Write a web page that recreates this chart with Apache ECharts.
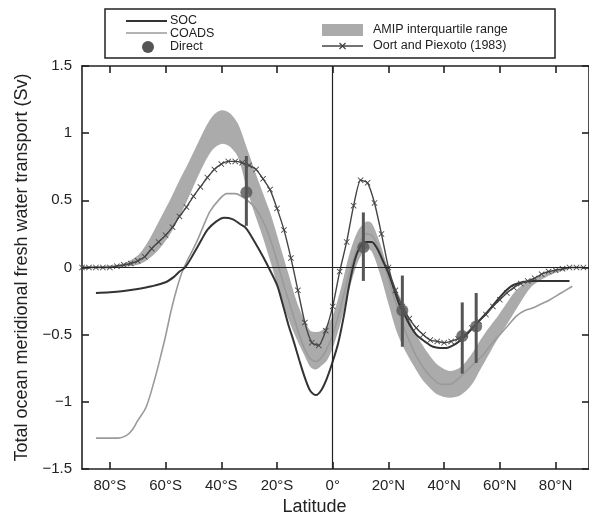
<!DOCTYPE html>
<html><head><meta charset="utf-8">
<script src="https://cdn.jsdelivr.net/npm/echarts@6/dist/echarts.min.js"></script>
<style>html,body{margin:0;padding:0;background:#fff}#c{width:589px;height:521px}</style>
</head><body><div id="c"></div>
<script>
// ---- data ----
const latTicks = [-80, -60, -40, -20, 0, 20, 40, 60, 80];
const yTicks = [-1.5, -1, -0.5, 0, 0.5, 1, 1.5];

// SOC: [latitude, Sv]
const socData = [
  [-85,-0.19],[-80,-0.185],[-75,-0.175],[-70,-0.16],[-65,-0.14],[-60,-0.11],[-57,-0.07],[-55,-0.03],
  [-53,0.0],[-50,0.10],[-47,0.21],[-45,0.28],[-42,0.34],[-39,0.37],[-36,0.36],[-33,0.32],[-31,0.29],
  [-28,0.19],[-25,0.08],[-23,0.0],[-20,-0.13],[-18,-0.27],[-16,-0.42],[-14,-0.55],[-12,-0.69],
  [-10,-0.82],[-8,-0.92],[-6,-0.95],[-4,-0.91],[-2,-0.82],[0,-0.7],[2,-0.56],[4,-0.36],[6,-0.12],
  [8,0.06],[10,0.16],[12,0.19],[14,0.19],[16,0.14],[18,0.05],[20,-0.04],[22,-0.16],[24,-0.28],
  [26,-0.36],[28,-0.44],[30,-0.5],[33,-0.55],[36,-0.59],[40,-0.6],[44,-0.57],[48,-0.5],[52,-0.41],
  [56,-0.32],[60,-0.22],[64,-0.14],[68,-0.11],[72,-0.1],[78,-0.1],[85,-0.1]
];

// COADS: [latitude, Sv]
const coadsData = [
  [-85,-1.27],[-80,-1.27],[-77,-1.27],[-74,-1.25],[-72,-1.21],[-70,-1.14],[-67,-1.04],[-64,-0.84],
  [-62,-0.68],[-60,-0.51],[-58,-0.32],[-56,-0.16],[-54,-0.03],[-52,0.06],[-50,0.14],[-48,0.23],
  [-46,0.33],[-44,0.42],[-41,0.5],[-38,0.55],[-35,0.55],[-32,0.52],[-29,0.47],[-27,0.42],[-24,0.3],
  [-21,0.12],[-18,-0.1],[-15,-0.3],[-12,-0.5],[-10,-0.61],[-8,-0.68],[-6,-0.7],[-4,-0.67],[-2,-0.6],
  [0,-0.5],[2,-0.36],[4,-0.2],[6,-0.04],[8,0.1],[10,0.2],[12,0.25],[14,0.24],[16,0.17],[18,0.06],
  [20,-0.08],[22,-0.22],[24,-0.35],[26,-0.47],[28,-0.57],[30,-0.66],[33,-0.76],[36,-0.83],[39,-0.87],
  [42,-0.87],[45,-0.83],[48,-0.77],[51,-0.71],[54,-0.65],[57,-0.57],[60,-0.5],[63,-0.43],[66,-0.36],
  [69,-0.32],[72,-0.3],[75,-0.27],[78,-0.24],[82,-0.19],[86,-0.14]
];

// Oort and Piexoto (1983): [latitude, Sv]
const oortData = [
  [-90,0],[-87.5,0],[-85,0],[-82.5,0],[-80,0],[-77.5,0.01],[-75,0.02],[-72.5,0.03],[-70,0.05],
  [-67.5,0.08],[-65,0.14],[-62.5,0.19],[-60,0.24],[-57.5,0.3],[-55,0.38],[-52.5,0.45],[-50,0.53],
  [-47.5,0.6],[-45,0.67],[-42.5,0.73],[-40,0.77],[-37.5,0.79],[-35,0.79],[-32.5,0.78],[-30,0.76],
  [-27.5,0.73],[-25,0.66],[-22.5,0.58],[-20,0.44],[-17.5,0.28],[-15,0.07],[-12.5,-0.17],[-10,-0.41],
  [-7.5,-0.56],[-5,-0.58],[-2.5,-0.47],[0,-0.29],[2.5,-0.03],[5,0.19],[7.5,0.46],[10,0.65],[12.5,0.63],
  [15,0.48],[17.5,0.25],[20,0.0],[22.5,-0.17],[25,-0.29],[27.5,-0.38],[30,-0.45],[32.5,-0.5],
  [35,-0.54],[37.5,-0.55],[40,-0.56],[42.5,-0.55],[45,-0.53],[47.5,-0.5],[50,-0.45],[52.5,-0.4],
  [55,-0.35],[57.5,-0.29],[60,-0.24],[62.5,-0.19],[65,-0.15],[67.5,-0.12],[70,-0.1],[72.5,-0.08],
  [75,-0.05],[77.5,-0.03],[80,-0.02],[82.5,-0.01],[85,0],[87.5,0],[90,0]
];

// AMIP interquartile range: [latitude, lower, upper]
const amipBand = [
  [-90,0,0.01],[-85,0,0.01],[-80,0,0.015],[-75,0.005,0.03],[-70,0.02,0.09],[-67,0.05,0.17],
  [-64,0.1,0.28],[-61,0.17,0.4],[-58,0.26,0.52],[-55,0.38,0.65],[-52,0.51,0.77],[-49,0.65,0.9],
  [-46,0.78,1.03],[-43,0.88,1.13],[-40,0.92,1.17],[-37,0.9,1.15],[-34,0.82,1.07],[-31,0.6,0.9],
  [-28,0.4,0.72],[-25,0.22,0.55],[-22,0.02,0.38],[-19,-0.2,0.17],[-16,-0.38,-0.04],[-13,-0.53,-0.25],
  [-10,-0.66,-0.4],[-8,-0.74,-0.47],[-6,-0.76,-0.48],[-4,-0.73,-0.47],[-2,-0.69,-0.43],[0,-0.6,-0.36],
  [3,-0.4,-0.15],[6,-0.16,0.1],[9,0.04,0.27],[12,0.14,0.34],[14,0.12,0.33],[17,-0.05,0.18],
  [20,-0.27,-0.02],[23,-0.48,-0.17],[26,-0.62,-0.3],[29,-0.73,-0.46],[32,-0.83,-0.57],[35,-0.9,-0.66],
  [38,-0.95,-0.73],[42,-0.97,-0.77],[46,-0.95,-0.74],[50,-0.87,-0.64],[53,-0.76,-0.54],[56,-0.65,-0.45],
  [59,-0.54,-0.37],[62,-0.44,-0.28],[65,-0.34,-0.19],[68,-0.24,-0.13],[71,-0.15,-0.09],[75,-0.09,-0.06],
  [80,-0.04,-0.02],[85,-0.01,0.0]
];

// Direct estimates: [latitude, value, low, high]
const directData = [
  [-31, 0.56, 0.31, 0.83],
  [11, 0.15, -0.10, 0.41],
  [25, -0.32, -0.59, -0.06],
  [46.5, -0.51, -0.79, -0.26],
  [51.5, -0.44, -0.71, -0.19]
];

// ---- chart ----
const FONT = "'Liberation Sans', Arial, Helvetica, sans-serif";
const INK = '#222';
const chart = echarts.init(document.getElementById('c'), null, {renderer: 'canvas'});

const latFmt = v => v === 0 ? '0°' : (v < 0 ? (-v) + '°S' : v + '°N');
const yFmt = v => v < 0 ? '\u2212' + (-v) : String(v);

const xCommon = {
  type: 'value', min: -90, max: 92,
  axisLine: {show: true, onZero: false, lineStyle: {color: INK, width: 1.6}},
  axisTick: {show: true, inside: true, length: 7, customValues: latTicks, lineStyle: {color: INK, width: 1.6}},
  splitLine: {show: false}
};
const yCommon = {
  type: 'value', min: -1.5, max: 1.5, interval: 0.5,
  axisLine: {show: true, onZero: false, lineStyle: {color: INK, width: 1.6}},
  axisTick: {show: true, inside: true, length: 7, lineStyle: {color: INK, width: 1.6}},
  splitLine: {show: false}
};

const option = {
  backgroundColor: '#fff',
  animation: false,
  textStyle: {fontFamily: FONT},
  grid: {left: 82, top: 66, width: 508, height: 403, containLabel: false},
  xAxis: [
    Object.assign({}, xCommon, {
      position: 'bottom',
      axisLabel: {show: true, customValues: latTicks, formatter: latFmt, fontSize: 15, color: INK, margin: 9, fontFamily: FONT},
      name: 'Latitude', nameLocation: 'middle', nameGap: 25,
      nameTextStyle: {fontSize: 18, color: INK, fontFamily: FONT, padding: [0, 42, 0, 0]}
    }),
    Object.assign({}, xCommon, {position: 'top', axisLabel: {show: false}})
  ],
  yAxis: [
    Object.assign({}, yCommon, {
      position: 'left',
      axisLabel: {show: true, formatter: yFmt, fontSize: 15, color: INK, margin: 10, fontFamily: FONT},
      name: 'Total ocean meridional fresh water transport (Sv)', nameLocation: 'middle', nameGap: 40,
      nameTextStyle: {fontSize: 18, color: INK, fontFamily: FONT}
    }),
    Object.assign({}, yCommon, {position: 'right', axisLabel: {show: false}})
  ],
  series: [
    {
      type: 'custom', name: 'AMIP interquartile range', data: amipBand, z: 1, silent: true,
      encode: {x: 0, y: [1, 2]},
      renderItem: function (params, api) {
        if (params.dataIndex !== 0) return null;
        const up = amipBand.map(d => api.coord([d[0], d[2]]));
        const lo = amipBand.map(d => api.coord([d[0], d[1]])).reverse();
        return {type: 'polygon', shape: {points: up.concat(lo), smooth: 0.3},
                style: {fill: '#ababab', stroke: null}};
      }
    },
    {
      type: 'line', name: 'COADS', data: coadsData, z: 2, smooth: 0.3, symbol: 'none', silent: true,
      lineStyle: {color: '#9a9a9a', width: 1.6},
      markLine: {
        silent: true, symbol: 'none', label: {show: false},
        lineStyle: {color: INK, width: 1.2, type: 'solid'},
        data: [{xAxis: 0}, {yAxis: 0}]
      }
    },
    {
      type: 'line', name: 'SOC', data: socData, z: 3, smooth: 0.3, symbol: 'none', silent: true,
      lineStyle: {color: '#333', width: 2}
    },
    {
      type: 'line', name: 'Oort and Piexoto (1983)', data: oortData, z: 4, smooth: 0.2, silent: true,
      symbol: 'path://M1,0L5,4L9,0L10,1L6,5L10,9L9,10L5,6L1,10L0,9L4,5L0,1Z',
      symbolSize: 6, showSymbol: true,
      itemStyle: {color: '#444'},
      lineStyle: {color: '#444', width: 1.4}
    },
    {
      type: 'custom', name: 'Direct error', data: directData, z: 5, silent: true,
      encode: {x: 0, y: [2, 3]},
      renderItem: function (params, api) {
        const p1 = api.coord([api.value(0), api.value(2)]);
        const p2 = api.coord([api.value(0), api.value(3)]);
        return {type: 'line', shape: {x1: p1[0], y1: p1[1], x2: p2[0], y2: p2[1]},
                style: {stroke: '#555', lineWidth: 3}};
      }
    },
    {
      type: 'scatter', name: 'Direct', data: directData.map(d => [d[0], d[1]]), z: 6, silent: true,
      symbol: 'circle', symbolSize: 12, itemStyle: {color: '#555'}
    }
  ],
  graphic: [
    {type: 'rect', z: 100, shape: {x: 105, y: 9, width: 450, height: 49}, style: {fill: '#fff', stroke: INK, lineWidth: 1.5}},
    {type: 'line', z: 101, shape: {x1: 126, y1: 21, x2: 167, y2: 21}, style: {stroke: '#333', lineWidth: 2}},
    {type: 'text', z: 101, x: 170, y: 21, style: {text: 'SOC', fontSize: 12.5, fontFamily: FONT, fill: INK, verticalAlign: 'middle'}},
    {type: 'line', z: 101, shape: {x1: 126, y1: 33, x2: 167, y2: 33}, style: {stroke: '#9a9a9a', lineWidth: 1.6}},
    {type: 'text', z: 101, x: 170, y: 34, style: {text: 'COADS', fontSize: 12.5, fontFamily: FONT, fill: INK, verticalAlign: 'middle'}},
    {type: 'circle', z: 101, shape: {cx: 148, cy: 47, r: 6}, style: {fill: '#555'}},
    {type: 'text', z: 101, x: 170, y: 47, style: {text: 'Direct', fontSize: 12.5, fontFamily: FONT, fill: INK, verticalAlign: 'middle'}},
    {type: 'rect', z: 101, shape: {x: 322, y: 24, width: 41, height: 12}, style: {fill: '#ababab'}},
    {type: 'text', z: 101, x: 373, y: 30, style: {text: 'AMIP interquartile range', fontSize: 12.5, fontFamily: FONT, fill: INK, verticalAlign: 'middle'}},
    {type: 'line', z: 101, shape: {x1: 322, y1: 46, x2: 363, y2: 46}, style: {stroke: '#444', lineWidth: 1.4}},
    {type: 'line', z: 102, shape: {x1: 339.5, y1: 43, x2: 345.5, y2: 49}, style: {stroke: '#444', lineWidth: 1.2}},
    {type: 'line', z: 102, shape: {x1: 345.5, y1: 43, x2: 339.5, y2: 49}, style: {stroke: '#444', lineWidth: 1.2}},
    {type: 'text', z: 101, x: 373, y: 46, style: {text: 'Oort and Piexoto (1983)', fontSize: 12.5, fontFamily: FONT, fill: INK, verticalAlign: 'middle'}}
  ]
};
chart.setOption(option);
</script></body></html>
